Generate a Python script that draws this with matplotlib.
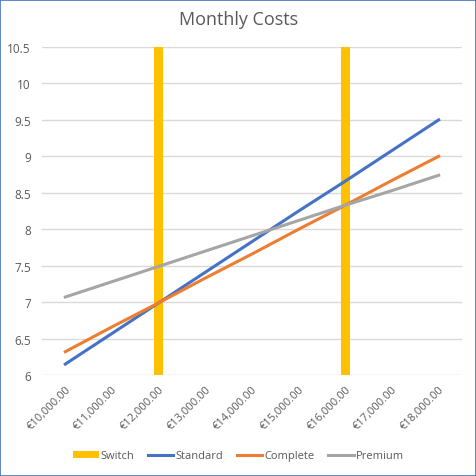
import matplotlib.pyplot as plt
from matplotlib.patches import Rectangle

# category labels (income) and series values
incomes = ['€10,000.00', '€11,000.00', '€12,000.00', '€13,000.00', '€14,000.00',
           '€15,000.00', '€16,000.00', '€17,000.00', '€18,000.00']
switch = [0, 0, 10.5, 0, 0, 0, 10.5, 0, 0]
standard = [6.15, 6.57, 6.99, 7.41, 7.83, 8.25, 8.66, 9.08, 9.5]
complete = [6.32, 6.66, 6.99, 7.33, 7.66, 8.0, 8.33, 8.67, 9.0]
premium = [7.07, 7.28, 7.49, 7.70, 7.91, 8.12, 8.33, 8.53, 8.74]

plt.rcParams['font.family'] = ['Open Sans', 'DejaVu Sans']
text_col = '#595959'

fig = plt.figure(figsize=(4.77, 4.77), dpi=100)
ax = fig.add_axes([42 / 477, 1 - 376 / 477, 420 / 477, 328 / 477])

x = list(range(len(incomes)))
b = ax.bar(x, switch, width=0.18, color='#FFC000', label='Switch', zorder=2)
l1, = ax.plot(x, standard, color='#4472C4', lw=2.2, label='Standard', zorder=3)
l2, = ax.plot(x, complete, color='#ED7D31', lw=2.2, label='Complete', zorder=3)
l3, = ax.plot(x, premium, color='#A5A5A5', lw=2.2, label='Premium', zorder=3)

ax.set_xlim(-0.5, len(incomes) - 0.5)
ax.set_ylim(6, 10.5)
ax.set_yticks([6, 6.5, 7, 7.5, 8, 8.5, 9, 9.5, 10, 10.5])
ax.set_yticklabels(['6', '6.5', '7', '7.5', '8', '8.5', '9', '9.5', '10', '10.5'])
ax.set_xticks(x)
ax.set_xticklabels(incomes, rotation=45, ha='right', rotation_mode='anchor')
ax.tick_params(length=0, labelsize=8.5, colors=text_col)
ax.tick_params(axis='x', labelsize=8, pad=6)
ax.tick_params(axis='y', pad=8)
ax.grid(axis='y', color='#D9D9D9', lw=1, zorder=0)
for s in ax.spines.values():
    s.set_visible(False)

fig.text(0.5, 1 - 20 / 477, 'Monthly Costs', ha='center', va='center',
         fontsize=13, color=text_col)

fig.legend([b, l1, l2, l3], ['Switch', 'Standard', 'Complete', 'Premium'],
           loc='center', bbox_to_anchor=(0.5, 1 - 457 / 477), ncol=4,
           frameon=False, fontsize=8, labelcolor=text_col,
           handlelength=2.3, handleheight=0.5, handletextpad=0.2, columnspacing=1.2)

fig.patches.append(Rectangle((0.001, 0.001), 0.997, 0.997, transform=fig.transFigure,
                             fill=False, edgecolor='#4472C4', lw=1.2))

fig.savefig('out.png', dpi=100)
